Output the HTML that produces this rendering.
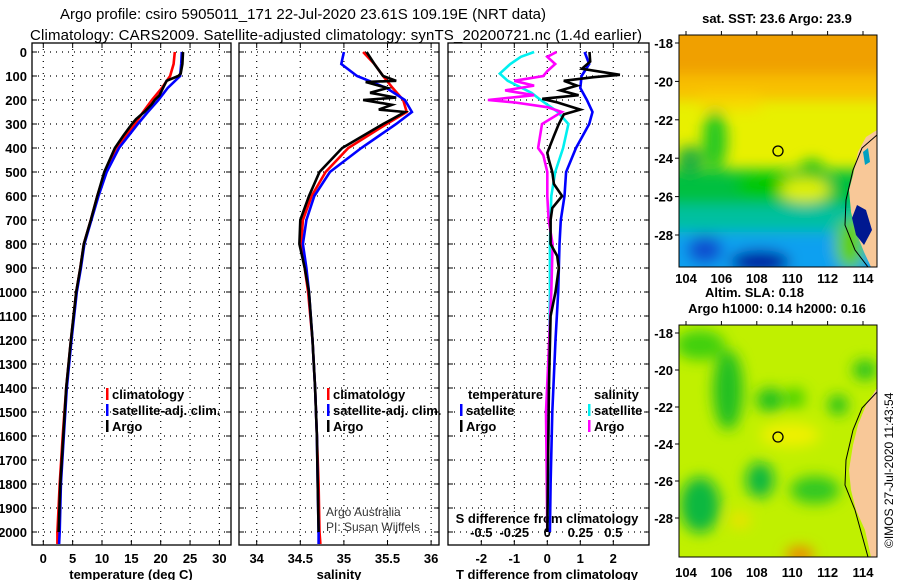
<!DOCTYPE html>
<html><head><meta charset="utf-8"><style>
body{margin:0;background:#fff}
svg{display:block}
text{font-family:"Liberation Sans",sans-serif}
.b{font-weight:bold;font-size:13px}
</style></head><body>
<svg id="s" width="900" height="580" viewBox="0 0 900 580">
<defs>
<filter id="bl" x="-20%" y="-20%" width="140%" height="140%"><feGaussianBlur stdDeviation="7"/></filter>
<clipPath id="c1"><rect x="679" y="35" width="198" height="232"/></clipPath>
<clipPath id="c2"><rect x="679" y="325" width="198" height="232"/></clipPath>
<clipPath id="p1"><rect x="32" y="43" width="199" height="502"/></clipPath>
<clipPath id="p2"><rect x="239" y="43" width="200" height="502"/></clipPath>
<clipPath id="p3"><rect x="448" y="43" width="201" height="502"/></clipPath>
</defs>
<text x="303" y="19" text-anchor="middle" font-size="15" textLength="486">Argo profile: csiro 5905011_171 22-Jul-2020 23.61S 109.19E (NRT data)</text>
<text x="336" y="40" text-anchor="middle" font-size="15" textLength="612">Climatology: CARS2009. Satellite-adjusted climatology: synTS_20200721.nc (1.4d earlier)</text>

<!-- Map 1 -->
<g clip-path="url(#c1)">
<rect x="679" y="35" width="198" height="232" fill="#e8f000"/>
<g filter="url(#bl)">
<rect x="660" y="20" width="240" height="60" fill="#f0a000"/>
<rect x="660" y="75" width="240" height="25" fill="#f8c000"/>
<rect x="700" y="95" width="60" height="15" fill="#f8d800"/>
<rect x="660" y="170" width="240" height="45" fill="#00c040"/>
<rect x="660" y="205" width="200" height="35" fill="#00c0a0"/>
<rect x="660" y="232" width="230" height="50" fill="#10a0f0"/>
<ellipse cx="760" cy="262" rx="30" ry="12" fill="#0018a0"/>
<ellipse cx="705" cy="250" rx="18" ry="14" fill="#1050d0"/>
<ellipse cx="715" cy="140" rx="12" ry="30" fill="#20c820"/>
<ellipse cx="690" cy="160" rx="14" ry="14" fill="#20b040"/>
<ellipse cx="770" cy="185" rx="35" ry="14" fill="#00c800"/>
<ellipse cx="812" cy="170" rx="12" ry="10" fill="#10c020"/>
<ellipse cx="805" cy="190" rx="25" ry="12" fill="#e0f000"/>
<ellipse cx="850" cy="245" rx="15" ry="25" fill="#60d000"/>
</g>
<polygon points="877,130 866,137 858,152 853,175 849,190 851,212 856,232 864,252 871,267 877,267" fill="#f8c898"/>
<polygon points="857,205 866,210 872,230 864,245 856,235 852,218" fill="#001890"/>
<polygon points="863,152 868,148 870,162 865,165" fill="#00a0c0"/>
<polyline points="877,135 862,148 853,170 846,200 845,225 855,250 868,267" fill="none" stroke="#000" stroke-width="1"/>
<circle cx="778" cy="151" r="5" fill="none" stroke="#000" stroke-width="1.3"/>
</g>
<rect x="679" y="35" width="198" height="232" fill="none" stroke="#000"/>
<text x="777" y="23" text-anchor="middle" class="b">sat. SST: 23.6 Argo: 23.9</text>

<!-- Map 2 -->
<g clip-path="url(#c2)">
<rect x="679" y="325" width="198" height="232" fill="#c0f000"/>
<g filter="url(#bl)">
<ellipse cx="700" cy="345" rx="25" ry="15" fill="#40d010"/>
<ellipse cx="728" cy="390" rx="15" ry="40" fill="#20c020"/>
<ellipse cx="770" cy="400" rx="14" ry="12" fill="#20c020"/>
<ellipse cx="795" cy="398" rx="10" ry="10" fill="#40d000"/>
<ellipse cx="838" cy="405" rx="10" ry="10" fill="#20c020"/>
<ellipse cx="865" cy="370" rx="12" ry="10" fill="#20c020"/>
<ellipse cx="790" cy="435" rx="30" ry="12" fill="#f0f000"/>
<ellipse cx="700" cy="505" rx="20" ry="28" fill="#10b840"/>
<ellipse cx="760" cy="480" rx="14" ry="18" fill="#10b840"/>
<ellipse cx="815" cy="490" rx="25" ry="14" fill="#30c820"/>
<ellipse cx="800" cy="555" rx="14" ry="8" fill="#f08000"/>
<ellipse cx="740" cy="520" rx="10" ry="8" fill="#f0e000"/>
</g>
<polygon points="877,388 866,405 858,425 853,445 849,470 851,490 856,510 865,530 871,557 877,557" fill="#f8c898"/>
<polyline points="877,392 862,408 853,430 846,460 845,485 855,510 868,557" fill="none" stroke="#000" stroke-width="1"/>
<circle cx="778" cy="437" r="5" fill="none" stroke="#000" stroke-width="1.3"/>
</g>
<rect x="679" y="325" width="198" height="232" fill="none" stroke="#000"/>
<text x="705" y="297" class="b">Altim. SLA: 0.18</text>
<text x="777" y="313" text-anchor="middle" class="b">Argo h1000: 0.14 h2000: 0.16</text>
<text transform="translate(893,548) rotate(-90)" font-size="12">©IMOS 27-Jul-2020 11:43:54</text>
<g id="maxes"></g>

<g id="panels"></g>
</svg>
<script>
// ---------- data ----------
const depthTicks=[0,100,200,300,400,500,600,700,800,900,1000,1100,1200,1300,1400,1500,1600,1700,1800,1900,2000];
const tempTicks=[0,5,10,15,20,25,30];
const salTicks=[34,34.5,35,35.5,36];
const salTickLabels=["34","34.5","35","35.5","36"];
const tdiffTicks=[-2,-1,0,1,2];
const sdiffTicks=[-0.5,-0.25,0,0.25,0.5];
const sdiffTickLabels=["-0.5","-0.25","0","0.25","0.5"];
const lonTicks=[104,106,108,110,112,114];
const latTicks=[-18,-20,-22,-24,-26,-28];

const profDepth=[0,50,100,150,200,250,300,400,500,600,700,800,900,1000,1200,1400,1600,1800,2000,2050];
const tempClim=[22.4,22.2,21.6,20.2,18.5,17.0,15.6,12.4,10.5,9.2,8.1,6.9,6.3,5.6,4.7,3.9,3.3,2.8,2.4,2.4];
const tempSat=[23.6,23.5,23.3,21.2,19.6,17.8,16.1,12.9,10.8,9.4,8.2,7.0,6.4,5.7,4.8,4.0,3.5,3.0,2.8,2.7];
const argoTDepth=[0,50,90,100,120,150,180,200,220,250,280,300,350,400,500,600,700,800,900,1000,1200,1400,1600,1800,2000];
const tempArgo=[23.8,23.7,23.4,23.0,21.0,20.4,19.8,19.0,18.4,17.2,15.8,15.1,13.6,12.2,10.4,9.2,8.1,6.9,6.3,5.6,4.7,3.9,3.4,2.9,2.6];

const salClim=[35.22,35.35,35.45,35.56,35.68,35.72,35.49,35.05,34.79,34.63,34.53,34.51,34.55,34.59,34.64,34.67,34.69,34.71,34.72,34.73];
const salSat=[35.0,34.97,35.15,35.49,35.70,35.78,35.60,35.20,34.84,34.66,34.57,34.53,34.57,34.60,34.64,34.67,34.69,34.70,34.71,34.71];
const argoSDepth=[0,50,100,120,125,150,170,190,200,220,240,250,280,300,400,500,600,700,800,900,1000,1200,1400,1600,1800,2000];
const salArgo=[35.26,35.35,35.45,35.6,35.25,35.5,35.3,35.6,35.22,35.55,35.4,35.7,35.55,35.45,34.98,34.72,34.6,34.5,34.49,34.55,34.6,34.64,34.67,34.69,34.7,34.71];

const tdSatDepth=[0,50,100,150,200,250,300,350,400,500,600,700,800,1000,1200,1500,1800,2000];
const tdSat=[1.13,1.27,1.04,1.0,1.2,1.37,1.27,1.07,0.87,0.57,0.52,0.41,0.37,0.33,0.25,0.15,0.1,0.08];
const tdArgoDepth=[0,40,70,95,105,120,140,160,180,195,210,240,260,300,350,420,450,500,550,600,650,700,800,850,900,1000,1100,1400,2000];
const tdArgo=[1.28,1.3,1.05,2.2,1.4,0.5,0.9,0.4,0.95,-0.15,0.3,1.0,0.5,0.35,0.2,0.0,0.05,0.15,0.2,0.45,0.15,0.1,0.1,0.3,0.35,0.25,0.1,0.05,0.0];
const sdSatDepth=[0,20,50,90,120,170,200,250,300,400,500,600,800,1000,2000];
const sdSat=[-0.1,-0.2,-0.28,-0.36,-0.3,-0.12,-0.05,0.08,0.16,0.12,0.06,0.03,0.02,0.02,0.0];
const sdArgoDepth=[0,20,50,80,100,120,140,160,180,200,210,230,250,300,400,430,500,600,700,800,1000,1500,2000];
const sdArgo=[0.07,0.0,0.06,0.0,-0.03,-0.25,-0.1,-0.32,-0.1,-0.45,-0.25,0.0,0.11,-0.04,-0.07,-0.03,0.0,0.0,0.01,0.04,0.03,-0.01,0.0];

// ---------- helpers ----------
const NS="http://www.w3.org/2000/svg";
const root=document.getElementById('panels');
function mk(tag,attrs,parent){const e=document.createElementNS(NS,tag);for(const k in attrs)e.setAttribute(k,attrs[k]);(parent||root).appendChild(e);return e;}
const yD=d=>52+d*0.24;
const xT=v=>43.3+v*5.87;
const xS=v=>256.7+(v-34)*87.2;
const xTD=v=>547.3+v*33;
const xSD=v=>547.3+v*132;

const panels=[{x:32,w:199,clip:'p1',name:'temperature-panel'},{x:239,w:200,clip:'p2',name:'salinity-panel'},{x:448,w:201,clip:'p3',name:'difference-panel'}];
const panelXs=[tempTicks.map(xT),salTicks.map(xS),tdiffTicks.map(xTD)];
panels.forEach((p,i)=>{
  const g=mk('g',{});
  
  
  p.g=g;
  depthTicks.forEach(d=>{const l=mk('line',{x1:p.x,x2:p.x+p.w,y1:yD(d),y2:yD(d),stroke:'#000','stroke-dasharray':'1 5','stroke-width':1.2},g);
    
    mk('line',{x1:p.x,x2:p.x+5,y1:yD(d),y2:yD(d),stroke:'#000'},g);mk('line',{x1:p.x+p.w-5,x2:p.x+p.w,y1:yD(d),y2:yD(d),stroke:'#000'},g);});
  panelXs[i].forEach(x=>{const l=mk('line',{x1:x,x2:x,y1:43,y2:545,stroke:'#000','stroke-dasharray':'1 5','stroke-width':1.2},g);
    
    mk('line',{x1:x,x2:x,y1:545,y2:540,stroke:'#000'},g);mk('line',{x1:x,x2:x,y1:43,y2:48,stroke:'#000'},g);});
  const f=mk('rect',{x:p.x,y:43,width:p.w,height:502,fill:'none',stroke:'#000','stroke-width':1.3},g);
  
});
// depth labels
depthTicks.forEach(d=>{const t=mk('text',{x:27,y:yD(d)+5,'text-anchor':'end',class:'b'});t.textContent=d;
  });
function xlabels(ticks,labels,fx,y){ticks.forEach((v,i)=>{const t=mk('text',{x:fx(v),y:y,'text-anchor':'middle',class:'b'});t.textContent=labels[i];
  });}
xlabels(tempTicks,tempTicks.map(String),xT,563);
xlabels(salTicks,salTickLabels,xS,563);
xlabels(tdiffTicks,tdiffTicks.map(String),xTD,563);
xlabels(sdiffTicks,sdiffTickLabels,xSD,537);
[['temperature (deg C)',131,'temperature-axis-title'],['salinity',339,'salinity-axis-title'],['T difference from climatology',547,'tdiff-axis-title']].forEach(a=>{
  const t=mk('text',{x:a[1],y:579,'text-anchor':'middle',class:'b'});t.textContent=a[0];
  });
{const t=mk('text',{x:547,y:523,'text-anchor':'middle',class:'b'});t.textContent='S difference from climatology';
 }

function series(depths,vals,fx,color,clip,name){
  const pts=depths.map((d,i)=>fx(vals[i]).toFixed(1)+','+yD(d).toFixed(1)).join(' ');
  const l=mk('polyline',{points:pts,fill:'none',stroke:color,'stroke-width':2.6,'stroke-linejoin':'miter','clip-path':'url(#'+clip+')'});
  
  
}
series(profDepth,tempClim,xT,'#ff0000','p1','temp-climatology-line');
series(profDepth,tempSat,xT,'#0000ff','p1','temp-satellite-line');
series(argoTDepth,tempArgo,xT,'#000','p1','temp-argo-line');
series(profDepth,salClim,xS,'#ff0000','p2','sal-climatology-line');
series(profDepth,salSat,xS,'#0000ff','p2','sal-satellite-line');
series(argoSDepth,salArgo,xS,'#000','p2','sal-argo-line');
series(sdSatDepth,sdSat,xSD,'#00f0f0','p3','sdiff-satellite-line');
series(sdArgoDepth,sdArgo,xSD,'#ff00ff','p3','sdiff-argo-line');
series(tdSatDepth,tdSat,xTD,'#0000ff','p3','tdiff-satellite-line');
series(tdArgoDepth,tdArgo,xTD,'#000','p3','tdiff-argo-line');

function legend(x,y,color,label,name){
  mk('rect',{x:x,y:y-11,width:2.5,height:12,fill:color});
  const t=mk('text',{x:x+6,y:y,class:'b'});t.textContent=label;
  
}
legend(106,399,'#ff0000','climatology','legend-temp-climatology');
legend(106,415,'#0000ff','satellite-adj. clim.','legend-temp-satellite');
legend(106,431,'#000','Argo','legend-temp-argo');
legend(327,399,'#ff0000','climatology','legend-sal-climatology');
legend(327,415,'#0000ff','satellite-adj. clim.','legend-sal-satellite');
legend(327,431,'#000','Argo','legend-sal-argo');
{const t=mk('text',{x:468,y:399,class:'b'});t.textContent='temperature';}
{const t=mk('text',{x:594,y:399,class:'b'});t.textContent='salinity';}
legend(460,415,'#0000ff','satellite','legend-tdiff-satellite');
legend(460,431,'#000','Argo','legend-tdiff-argo');
legend(588,415,'#00f0f0','satellite','legend-sdiff-satellite');
legend(588,431,'#ff00ff','Argo','legend-sdiff-argo');
{const t=mk('text',{x:326,y:516,'font-size':12,fill:'#333'});t.textContent='Argo Australia';}
{const t=mk('text',{x:326,y:531,'font-size':12,fill:'#333'});t.textContent='PI: Susan Wijffels';}

// map axes
const ma=document.getElementById('maxes');
function mapAxes(top,lat0y,latStep,ylab){
  const lonX=v=>686+(v-104)*17.7;
  const latY=v=>lat0y+(-18-v)*latStep;
  lonTicks.forEach(v=>{mk('line',{x1:lonX(v),x2:lonX(v),y1:top-4,y2:top,stroke:'#000'},ma);
    const t=mk('text',{x:lonX(v),y:ylab,'text-anchor':'middle',class:'b'},ma);t.textContent=v;
    });
  latTicks.forEach(v=>{mk('line',{x1:675,x2:679,y1:latY(v),y2:latY(v),stroke:'#000'},ma);
    const t=mk('text',{x:673,y:latY(v)+5,'text-anchor':'end',class:'b'},ma);t.textContent=v;
    });
}
mapAxes(35,43,19.2,283);
mapAxes(325,333,18.5,577);
</script>
</body></html>
